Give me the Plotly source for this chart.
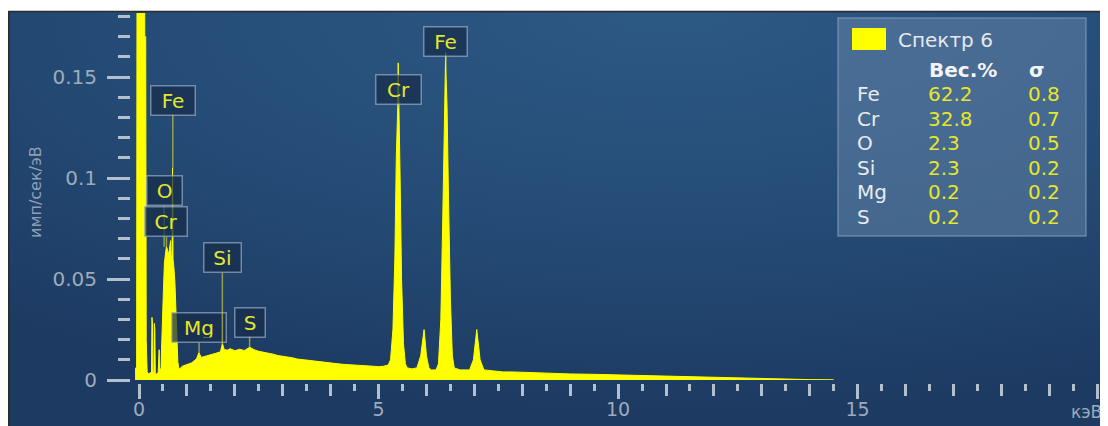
import base64
import plotly.graph_objects as go

# ---------------- data ----------------
energy_kev = [
    -0.08, -0.07, -0.05, -0.04, 0.0, 0.08, 0.12, 0.14, 0.15, 0.17, 0.20, 0.26,
    0.27, 0.28, 0.29, 0.31, 0.32, 0.33, 0.34, 0.38, 0.40, 0.42, 0.43, 0.46,
    0.47, 0.49, 0.51, 0.53, 0.55, 0.57, 0.59, 0.61, 0.63, 0.65, 0.66, 0.67,
    0.69, 0.70, 0.71, 0.73, 0.75, 0.77, 0.79, 0.81, 0.83, 0.85,
    0.9, 1.0, 1.1, 1.2, 1.25, 1.3, 1.4, 1.5, 1.6, 1.7, 1.74, 1.78, 1.85, 1.9,
    2.0, 2.1, 2.2, 2.31, 2.4, 2.5, 2.6, 2.7, 2.8, 2.9, 3.0, 3.1, 3.2, 3.3,
    3.4, 3.5, 3.6, 3.7, 3.8, 3.9, 4.0, 4.1, 4.2, 4.3, 4.4, 4.5, 4.6, 4.7,
    4.8, 4.9, 5.0, 5.1, 5.2, 5.25, 5.3, 5.34, 5.37, 5.40, 5.41, 5.42, 5.45,
    5.48, 5.52, 5.56, 5.6, 5.7, 5.8, 5.88, 5.95, 6.0, 6.05, 6.1, 6.2, 6.25,
    6.3, 6.34, 6.37, 6.40, 6.41, 6.43, 6.46, 6.50, 6.54, 6.58, 6.7, 6.9,
    6.98, 7.05, 7.12, 7.2, 7.4, 7.6, 7.8, 8.0, 8.5, 9.0, 9.5, 10.0, 10.5,
    11.0, 11.5, 12.0, 12.5, 13.0, 13.5, 14.0, 14.5,
]
counts = [
    0.0, 0.006, 0.006, 0.25, 0.60, 0.60, 0.17, 0.17, 0.02, 0.004, 0.003, 0.004,
    0.031, 0.028, 0.004, 0.003, 0.028, 0.025, 0.003, 0.003, 0.004, 0.015, 0.004, 0.006,
    0.015, 0.035, 0.045, 0.058, 0.064, 0.066, 0.065, 0.062, 0.064, 0.068, 0.069, 0.062,
    0.060, 0.105, 0.060, 0.055, 0.048, 0.035, 0.021, 0.009, 0.006, 0.0055,
    0.0068, 0.0075, 0.0085, 0.0105, 0.0135, 0.0112, 0.0118, 0.0125, 0.0132, 0.0140, 0.0180, 0.0150, 0.0148, 0.0155,
    0.0145, 0.0152, 0.0146, 0.0162, 0.0150, 0.0142, 0.0138, 0.0131, 0.0128, 0.0121, 0.0118, 0.0113, 0.0110, 0.0104,
    0.0101, 0.0097, 0.0095, 0.0091, 0.0089, 0.0086, 0.0083, 0.0082, 0.0079, 0.0077, 0.0076, 0.0073, 0.0072, 0.0070,
    0.0069, 0.0068, 0.0066, 0.0068, 0.0074, 0.010, 0.025, 0.060, 0.110, 0.135, 0.157, 0.135, 0.100,
    0.050, 0.018, 0.008, 0.006, 0.0055, 0.006, 0.012, 0.025, 0.012, 0.006, 0.005, 0.005, 0.008,
    0.030, 0.080, 0.125, 0.162, 0.150, 0.135, 0.090, 0.040, 0.012, 0.006, 0.005, 0.005,
    0.010, 0.025, 0.010, 0.005, 0.0045, 0.004, 0.004, 0.0038, 0.0035, 0.003, 0.0028, 0.0025, 0.002,
    0.0018, 0.0015, 0.0012, 0.001, 0.0007, 0.0004, 0.0002, 0.0001,
]

# peak labels: element, line energy (keV), height of leader tip (imp/s/eV)
peak_elements = ["Fe", "O", "Cr", "Mg", "Si", "S", "Cr", "Fe"]
peak_energy = [0.705, 0.525, 0.573, 1.254, 1.740, 2.308, 5.415, 6.404]
peak_height = [0.105, 0.066, 0.066, 0.0135, 0.018, 0.0162, 0.135, 0.158]

# composition table
spectrum_name = "Спектр 6"
table_elements = ["Fe", "Cr", "O", "Si", "Mg", "S"]
weight_pct = ["62.2", "32.8", "2.3", "2.3", "0.2", "0.2"]
sigma = ["0.8", "0.7", "0.5", "0.2", "0.2", "0.2"]

x_tick_vals = [0, 5, 10, 15, 20]
x_tick_text = ["0", "5", "10", "15", ""]
y_tick_vals = [0, 0.05, 0.1, 0.15]
y_tick_text = ["0", "0.05", "0.1", "0.15"]

# ---------------- layout helpers ----------------
# the page body has an 8px margin: the figure is placed at (8, 8)
OFF = 8
W, H = 1108 - OFF, 426 - OFF
def px(x):
    return (x - OFF) / W
def py(y):
    return 1 - (y - OFF) / H

FONT = "DejaVu Sans"
TICK_COL = "#b3bfcd"
LABEL_COL = "#9eabbb"
YELLOW = "#ffff00"

fig = go.Figure()
fig.add_trace(go.Scatter(
    x=energy_kev, y=counts, mode="lines", fill="tozeroy",
    line=dict(color=YELLOW, width=1), fillcolor=YELLOW,
    hoverinfo="skip", showlegend=False,
))
# dummy trace to carry the half-keV tick axis
fig.add_trace(go.Scatter(x=[0], y=[0], xaxis="x2", mode="markers",
                         marker=dict(opacity=0), hoverinfo="skip", showlegend=False))

# background gradient panel
svg = ('<svg xmlns="http://www.w3.org/2000/svg" width="1100" height="414" '
       'preserveAspectRatio="none">'
       '<defs><radialGradient id="g" cx="0.60" cy="0.0" r="0.95">'
       '<stop offset="0" stop-color="#2d5985"/>'
       '<stop offset="0.55" stop-color="#244b75"/>'
       '<stop offset="1" stop-color="#1d3a62"/>'
       '</radialGradient></defs>'
       '<rect width="1100" height="414" fill="url(#g)"/></svg>')
src = "data:image/svg+xml;base64," + base64.b64encode(svg.encode()).decode()

xr = [-0.084, 20.08]
fig.update_layout(
    template="none",
    width=W, height=H, autosize=False,
    margin=dict(l=0, r=0, t=0, b=0, pad=0),
    paper_bgcolor="white", plot_bgcolor="rgba(0,0,0,0)",
    font=dict(family=FONT, color=LABEL_COL, size=19),
    images=[dict(source=src, xref="paper", yref="paper", x=px(8), y=py(12),
                 sizex=px(1108) - px(8), sizey=py(12) + 0.02, sizing="stretch",
                 xanchor="left", yanchor="top", layer="below")],
    xaxis=dict(
        domain=[px(135), px(1101)], range=xr, anchor="free", position=py(383),
        automargin=False,
        showgrid=False, zeroline=False, showline=False,
        tickmode="array", tickvals=x_tick_vals, ticktext=x_tick_text,
        ticks="outside", ticklen=15, tickwidth=3, tickcolor=TICK_COL,
        ticklabelstandoff=-6,
        tickfont=dict(family=FONT, size=19, color=LABEL_COL),
        minor=dict(dtick=1, tick0=0, ticks="outside", ticklen=12, tickwidth=3,
                   tickcolor=TICK_COL, showgrid=False),
    ),
    xaxis2=dict(
        overlaying="x", domain=[px(135), px(1101)], range=xr, anchor="free",
        automargin=False,
        position=py(383), showgrid=False, zeroline=False, showline=False,
        tickmode="linear", tick0=0, dtick=0.5, ticks="outside", ticklen=7,
        tickwidth=3, tickcolor=TICK_COL, showticklabels=False,
    ),
    yaxis=dict(
        domain=[py(380), py(13)], range=[0, 0.1817], anchor="free",
        automargin=False,
        position=px(130), showgrid=False, zeroline=False, showline=False,
        tickmode="array", tickvals=y_tick_vals, ticktext=y_tick_text,
        ticks="outside", ticklen=23, tickwidth=3, tickcolor=TICK_COL,
        ticklabelstandoff=6,
        tickfont=dict(family=FONT, size=20, color=LABEL_COL),
        minor=dict(dtick=0.01, tick0=0, ticks="outside", ticklen=12, tickwidth=3,
                   tickcolor=TICK_COL, showgrid=False),
    ),
)

shapes = []
# outer frame
shapes.append(dict(type="rect", xref="paper", yref="paper", x0=px(8.8), x1=px(1105),
                   y0=py(440), y1=py(11.5), line=dict(color="#2b2b2b", width=1.5),
                   fillcolor="rgba(0,0,0,0)", layer="above"))
# legend / table box
shapes.append(dict(type="rect", xref="paper", yref="paper", x0=px(838), x1=px(1086),
                   y0=py(236), y1=py(18), line=dict(color="rgba(150,172,198,0.55)", width=1.5),
                   fillcolor="rgba(110,140,175,0.45)", layer="above"))
# legend swatch
shapes.append(dict(type="rect", xref="paper", yref="paper", x0=px(852), x1=px(886),
                   y0=py(50), y1=py(28), line=dict(color=YELLOW, width=0),
                   fillcolor=YELLOW, layer="above"))
fig.update_layout(shapes=shapes)

ann = []
# peak labels (box widths/centres in px)
box_w = [46, 37, 44, 56, 39, 32, 47, 45]
box_cy = [100, 191, 222, 328, 258, 322, 89, 41]
for el, e, h, bw, cy in zip(peak_elements, peak_energy, peak_height, box_w, box_cy):
    tip_px = 380 - h * (380 - 13) / 0.1817
    ann.append(dict(
        x=e, y=h, xref="x", yref="y", text=el, showarrow=True,
        ax=0, ay=cy - tip_px, arrowhead=0, arrowwidth=1.5,
        arrowcolor="rgba(205,205,70,0.65)", standoff=0, startstandoff=0,
        font=dict(family=FONT, size=20, color="#e6e62a"),
        bgcolor="rgba(22,45,75,0.72)", bordercolor="rgba(160,178,198,0.65)",
        borderwidth=1.5, borderpad=4, width=bw - 11, height=20,
    ))

# table text
TF = 20
ann.append(dict(x=px(896), y=py(40), xref="paper", yref="paper", text=spectrum_name,
                showarrow=False, xanchor="left", yanchor="middle",
                font=dict(family=FONT, size=TF, color="#e4e8ee")))
ann.append(dict(x=px(927), y=py(70), xref="paper", yref="paper", text="<b>Вес.%</b>",
                showarrow=False, xanchor="left", yanchor="middle",
                font=dict(family=FONT, size=TF, color="#f2f4f7")))
ann.append(dict(x=px(1027), y=py(70), xref="paper", yref="paper", text="<b>σ</b>",
                showarrow=False, xanchor="left", yanchor="middle",
                font=dict(family=FONT, size=TF, color="#f2f4f7")))
for i, (el, wv, sv) in enumerate(zip(table_elements, weight_pct, sigma)):
    yy = 94 + i * 24.6
    ann.append(dict(x=px(855), y=py(yy), xref="paper", yref="paper", text=el,
                    showarrow=False, xanchor="left", yanchor="middle",
                    font=dict(family=FONT, size=TF, color="#e8ebef")))
    ann.append(dict(x=px(926), y=py(yy), xref="paper", yref="paper", text=wv,
                    showarrow=False, xanchor="left", yanchor="middle",
                    font=dict(family=FONT, size=TF, color="#e6e62a")))
    ann.append(dict(x=px(1026), y=py(yy), xref="paper", yref="paper", text=sv,
                    showarrow=False, xanchor="left", yanchor="middle",
                    font=dict(family=FONT, size=TF, color="#e6e62a")))

# axis titles
ann.append(dict(x=px(1104), y=py(412), xref="paper", yref="paper", text="кэВ",
                showarrow=False, xanchor="right", yanchor="middle",
                font=dict(family=FONT, size=17, color=LABEL_COL)))
ann.append(dict(x=px(35), y=py(192), xref="paper", yref="paper", text="имп/сек/эВ",
                showarrow=False, xanchor="center", yanchor="middle", textangle=-90,
                font=dict(family=FONT, size=16, color="#8d9fb5")))
fig.update_layout(annotations=ann)

fig.write_html("out.html")
